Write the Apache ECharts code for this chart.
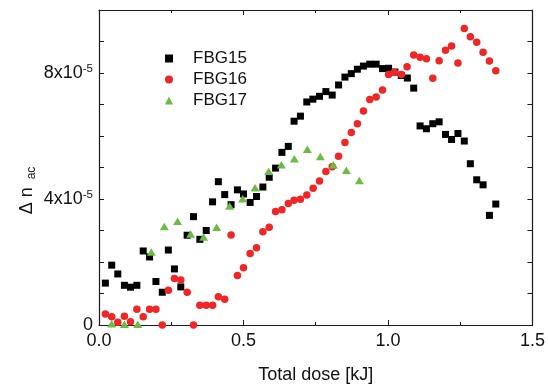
<!DOCTYPE html>
<html><head><meta charset="utf-8">
<script src="https://cdn.jsdelivr.net/npm/echarts@6/dist/echarts.min.js"></script>
<style>html,body{margin:0;padding:0;background:#fff}#c{width:548px;height:389px}</style>
</head><body><div id="c"></div>
<script>
const FONT = "'Liberation Sans', Arial, sans-serif";

// x axis tick labels (kJ) and y axis labelled ticks (units of 1e-5)
const xTickLabels = ['0.0', '0.5', '1.0', '1.5'];
const yLabelValues = [0, 4, 8];
const yLabelMantissa = ['0', '4x10', '8x10'];

// FBG15
const fbg15Dose = [0.022,0.044,0.065,0.088,0.109,0.131,0.153,0.175,0.197,0.219,
  0.240,0.261,0.283,0.305,0.327,0.349,0.371,0.393,0.413,0.435,
  0.457,0.479,0.500,0.523,0.545,0.567,0.589,0.611,0.633,0.655,
  0.675,0.697,0.719,0.740,0.763,0.785,0.807,0.829,0.851,0.873,
  0.894,0.915,0.937,0.959,0.981,1.002,1.024,1.046,1.067,1.089,
  1.111,1.133,1.155,1.177,1.199,1.220,1.242,1.264,1.285,1.307,
  1.329,1.351,1.373];
const fbg15Dn = [1.33,1.90,1.62,1.26,1.20,1.26,2.35,2.16,1.38,1.04,
  2.38,1.78,1.21,2.85,3.44,2.72,3.00,3.91,4.55,4.14,
  3.82,4.29,4.16,3.89,4.08,4.38,4.69,4.98,5.48,5.67,
  6.47,6.63,7.08,7.17,7.26,7.41,7.30,7.62,7.87,7.98,
  8.12,8.22,8.28,8.28,8.14,8.15,8.03,7.92,7.84,7.52,
  6.32,6.23,6.39,6.45,6.05,5.89,6.08,5.84,5.12,4.61,
  4.45,3.48,3.84];

// FBG16
const fbg16Dose = [0.022,0.044,0.065,0.088,0.109,0.131,0.153,0.175,0.197,0.219,
  0.240,0.261,0.283,0.305,0.327,0.349,0.371,0.393,0.413,0.435,
  0.457,0.479,0.500,0.523,0.545,0.567,0.589,0.611,0.633,0.655,
  0.675,0.697,0.719,0.741,0.763,0.785,0.807,0.829,0.851,0.873,
  0.894,0.915,0.937,0.959,0.981,1.002,1.022,1.046,1.066,1.089,
  1.111,1.133,1.155,1.177,1.199,1.220,1.242,1.264,1.285,1.307,
  1.329,1.351,1.373];
const fbg16Dn = [0.35,0.26,0.09,0.28,0.10,0.50,0.26,0.50,0.50,0.00,
  1.10,1.48,1.43,1.04,0.00,0.63,0.63,0.63,0.90,0.82,
  2.86,1.57,1.82,2.27,2.45,2.96,3.10,3.60,3.66,3.86,
  3.96,3.99,4.13,4.34,4.57,4.87,5.02,5.36,5.79,6.11,
  6.39,6.79,7.16,7.24,7.46,7.95,8.02,7.95,8.20,8.57,
  8.50,8.45,7.83,8.39,8.72,8.86,8.32,9.41,9.15,8.98,
  8.66,8.38,8.07];

// FBG17
const fbg17Dose = [0.044,0.088,0.134,0.181,0.226,0.272,0.317,0.362,0.407,0.452,
  0.497,0.540,0.587,0.631,0.676,0.721,0.766,0.811,0.856,0.901];
const fbg17Dn = [0.04,0.02,0.02,2.32,3.13,3.29,2.89,2.79,3.10,3.78,
  4.01,4.36,4.88,5.09,5.28,5.58,5.35,5.09,4.91,4.59];

const pairs = (xs, ys) => xs.map((x, i) => [x, ys[i]]);
const AXC = '#1a1a1a';

const xBase = {
  type: 'value', min: 0, max: 1.5, interval: 0.5,
  axisLine: { show: true, onZero: false, lineStyle: { color: AXC, width: 1.2 } },
  axisTick: { show: true, inside: true, length: 5, lineStyle: { color: AXC } },
  minorTick: { show: true, splitNumber: 2, length: 3, lineStyle: { color: AXC } },
  splitLine: { show: false }, minorSplitLine: { show: false }
};
const yBase = {
  type: 'value', min: 0, max: 10, interval: 1,
  axisLine: { show: true, onZero: false, lineStyle: { color: AXC, width: 1.2 } },
  axisTick: { show: true, inside: true, length: 5, lineStyle: { color: AXC } },
  splitLine: { show: false }
};

const chart = echarts.init(document.getElementById('c'), null, { renderer: 'canvas' });
chart.setOption({
  animation: false,
  backgroundColor: '#fff',
  textStyle: { fontFamily: FONT },
  grid: { left: 99, right: 15, top: 10, bottom: 60, containLabel: false },
  legend: {
    orient: 'vertical', left: 165, top: 50, padding: 0, itemGap: 4,
    itemWidth: 8, itemHeight: 8,
    textStyle: { fontFamily: FONT, fontSize: 17, color: '#111', lineHeight: 17, padding: [0, 0, 0, 15] },
    data: ['FBG15', 'FBG16', 'FBG17']
  },
  xAxis: [
    Object.assign({}, xBase, {
      position: 'bottom',
      axisLabel: { show: true, margin: 7, fontSize: 18, color: '#111', fontFamily: FONT,
        formatter: v => xTickLabels[Math.round(v / 0.5)] },
      name: 'Total dose [kJ]', nameLocation: 'middle', nameGap: 41,
      nameTextStyle: { fontSize: 18, color: '#111', fontFamily: FONT }
    }),
    Object.assign({}, xBase, { position: 'top', axisLabel: { show: false } })
  ],
  yAxis: [
    Object.assign({}, yBase, {
      position: 'left',
      axisLabel: { show: true, margin: 6, fontFamily: FONT,
        formatter: v => {
          const k = yLabelValues.indexOf(Math.round(v * 1000) / 1000);
          if (k < 0) return '';
          return k === 0 ? '{b|' + yLabelMantissa[k] + '}' : '{b|' + yLabelMantissa[k] + '}{s|-5}';
        },
        rich: {
          b: { fontSize: 18, color: '#111', fontFamily: FONT, lineHeight: 20 },
          s: { fontSize: 11.5, color: '#111', fontFamily: FONT, lineHeight: 12, verticalAlign: 'top' }
        }
      }
    }),
    Object.assign({}, yBase, { position: 'right', axisLabel: { show: false } })
  ],
  graphic: [{
    type: 'text', x: 27, y: 190.5, rotation: Math.PI / 2, silent: true,
    style: {
      text: '{m|Δ n }{s|ac}', align: 'center', verticalAlign: 'middle',
      rich: {
        m: { fontSize: 18, fill: '#111', fontFamily: FONT, lineHeight: 22 },
        s: { fontSize: 12, fill: '#111', fontFamily: FONT, lineHeight: 10, verticalAlign: 'bottom', padding: [0, 0, 0, 3] }
      }
    }
  }],
  series: [
    { name: 'FBG15', type: 'scatter', symbol: 'rect', symbolSize: 7,
      itemStyle: { color: '#000', opacity: 1 }, data: pairs(fbg15Dose, fbg15Dn) },
    { name: 'FBG16', type: 'scatter', symbol: 'circle', symbolSize: 7.5,
      itemStyle: { color: '#f02626', opacity: 1 }, data: pairs(fbg16Dose, fbg16Dn) },
    { name: 'FBG17', type: 'scatter', symbol: 'triangle', symbolSize: [9, 7.5],
      itemStyle: { color: '#6cbb45', opacity: 1 }, data: pairs(fbg17Dose, fbg17Dn) }
  ]
});
</script></body></html>
